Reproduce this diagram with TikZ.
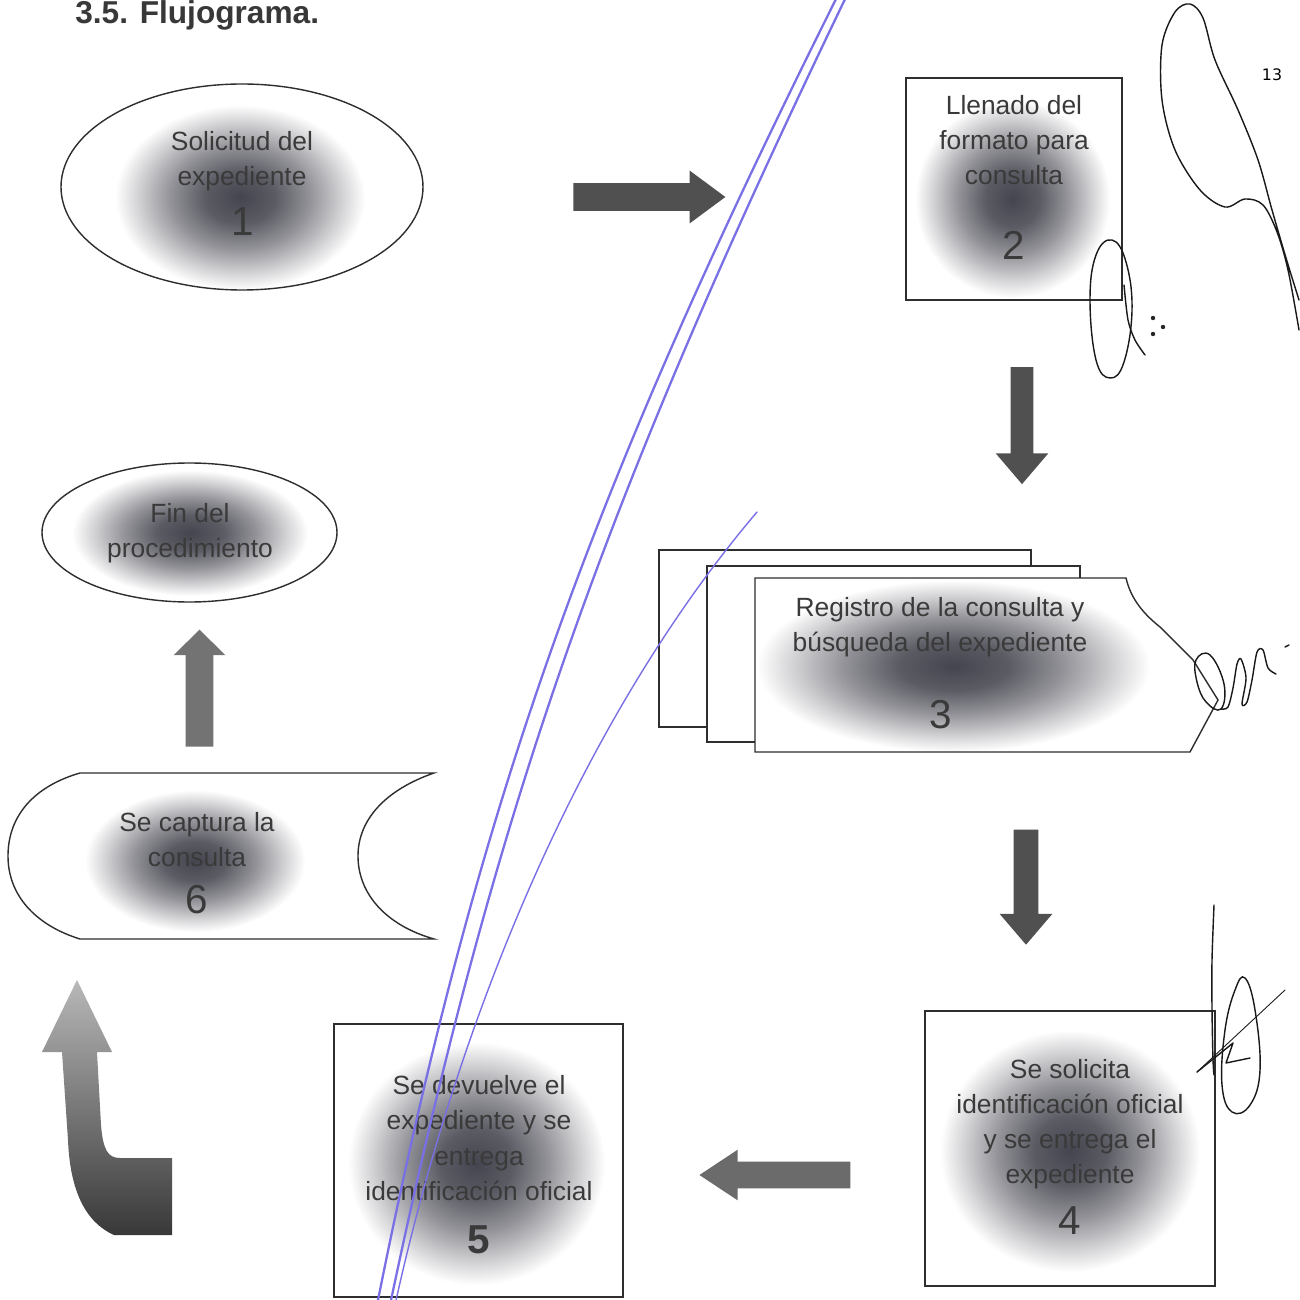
\documentclass[tikz,border=0pt]{standalone}
\usepackage{fontspec}
\setmainfont{Liberation Sans}
\newfontfamily\pagefont{DejaVu Sans}
\usetikzlibrary{shapes.arrows}

\definecolor{blobc}{rgb}{0.27,0.27,0.31}
\definecolor{inkc}{HTML}{3A3A3A}
\definecolor{penblue}{HTML}{7A70E6}
\definecolor{arrowc}{HTML}{505050}
\definecolor{edgec}{HTML}{2E2E2E}

% soft dark spot behind the step texts (the path box spans -25bp..25bp)
\pgfdeclareradialshading{blob}{\pgfpoint{0bp}{0bp}}{%
  color(0bp)=(blobc); color(7bp)=(blobc!88!white);
  color(14bp)=(blobc!58!white); color(20bp)=(blobc!26!white);
  color(25bp)=(white); color(50bp)=(white)}

\begin{document}
\begin{tikzpicture}[x=0.02cm, y=-0.02cm,
  boxline/.style={draw=edgec, line width=0.8pt},
  pagefill/.style={boxline, fill=white},
  steptext/.style={text=inkc, align=center, inner sep=0pt,
    font=\fontsize{15}{20}\selectfont},
  stepnum/.style={text=inkc, inner sep=0pt, font=\fontsize{23}{23}\selectfont},
  blockarrow/.style={single arrow, fill=arrowc, draw=none,
    inner xsep=0pt, outer sep=0pt},
  signline/.style={draw=black!90, line width=0.8pt, line cap=round, line join=round},
  penline/.style={draw=penblue, line width=1.3pt, line cap=round},
]
\fill[white] (0,0) rectangle (1299,1300);
\useasboundingbox (0,0) rectangle (1299,1300);

% heading and page number
\node[anchor=base west, inner sep=0pt, text=black!78,
  font=\fontsize{18}{18}\selectfont\bfseries] (title) at (75,24) {3.5. Flujograma.};
\node[inner sep=0pt, font=\pagefont\fontsize{9}{9}\selectfont] (pageno) at (1272,75) {13};

% ---- stacked pages of step 3 ----
\draw[pagefill] (659,550) rectangle (1031,727);
\draw[pagefill] (707,566) rectangle (1080,742);
\fill[white] (755,578) -- (1126,578) .. controls (1131,600) and (1145,615) .. (1160,627)
  -- (1193,660) -- (1218,700) -- (1190,752) -- (755,752) -- cycle;

% ---- soft spots ----
\shade[shading=blob] (115,105) rectangle (365,290);
\shade[shading=blob] (915,100) rectangle (1110,298);
\shade[shading=blob] (757,580) rectangle (1150,752);
\shade[shading=blob] (940,1030) rectangle (1200,1272);
\shade[shading=blob] (348,1042) rectangle (605,1285);
\shade[shading=blob] (85,790) rectangle (305,932);
\shade[shading=blob] (72,470) rectangle (308,596);

% ---- outlines ----
\draw[boxline] (242,187) ellipse (181 and 103);
\draw[boxline] (906,78) rectangle (1122,300);
\draw[boxline] (755,578) -- (1126,578) .. controls (1131,600) and (1145,615) .. (1160,627)
  -- (1193,660) -- (1218,700) -- (1190,752) -- (755,752) -- cycle;
\draw[boxline] (925,1011) rectangle (1215,1286);
\draw[boxline] (334,1024) rectangle (623,1297);
\draw[boxline] (80,773) -- (434,773)
  .. controls (385,790) and (358,820) .. (358,856)
  .. controls (358,893) and (385,925) .. (434,939)
  -- (80,939)
  .. controls (35,925) and (8,895) .. (8,856)
  .. controls (8,815) and (35,786) .. (80,773);
\draw[boxline] (189.5,532.5) ellipse (147.5 and 69.5);

% ---- step texts ----
\node[steptext] (n1) at (242,161) {Solicitud del\\expediente};
\node[stepnum]  (n1num) at (243,222) {1};
\node[steptext] (n2) at (1014,140) {Llenado del\\formato para\\consulta};
\node[stepnum]  (n2num) at (1014,245) {2};
\node[steptext] (n3) at (940,627) {Registro de la consulta y\\búsqueda del expediente};
\node[stepnum]  (n3num) at (941,715) {3};
\node[steptext] (n4) at (1070,1124) {Se solicita\\identificación oficial\\y se entrega el\\expediente};
\node[stepnum]  (n4num) at (1070,1221) {4};
\node[steptext] (n5) at (479,1138) {Se devuelve el\\expediente y se\\entrega\\identificación oficial};
\node[stepnum, font=\fontsize{23}{23}\selectfont\bfseries] (n5num) at (479,1240) {5};
\node[steptext] (n6) at (197,840) {Se captura la\\consulta};
\node[stepnum]  (n6num) at (197,900) {6};
\node[steptext] (fin) at (190,533) {Fin del\\procedimiento};

% ---- block arrows between the steps ----
\node[blockarrow, minimum height=3.04cm, minimum width=1.04cm, inner ysep=0.27cm,
  single arrow head extend=0.25cm, single arrow tip angle=73] (a12) at (640,197) {};
\node[blockarrow, rotate=-90, minimum height=2.34cm, minimum width=1.04cm, inner ysep=0.22cm,
  single arrow head extend=0.30cm, single arrow tip angle=81] (a23) at (1022,419) {};
\node[blockarrow, rotate=-90, minimum height=2.30cm, minimum width=1.04cm, inner ysep=0.24cm,
  single arrow head extend=0.28cm, single arrow tip angle=81] (a34) at (1026,880) {};
\node[blockarrow, fill=black!58, rotate=180, minimum height=3.02cm, minimum width=1.0cm,
  inner ysep=0.26cm, single arrow head extend=0.24cm, single arrow tip angle=67] (a45) at (785,1175) {};
\node[blockarrow, fill=black!55, rotate=90, minimum height=2.34cm, minimum width=1.02cm,
  inner ysep=0.27cm, single arrow head extend=0.24cm, single arrow tip angle=91] (a6f) at (199.5,695) {};

% bent arrow from step 5 up to step 6
\shade[top color=black!28, bottom color=black!78]
  (77,980) -- (112,1052) -- (97,1052) -- (101,1125)
  .. controls (103,1150) and (108,1158) .. (120,1158)
  -- (172,1158) -- (172,1235) -- (114,1235)
  .. controls (85,1222) and (70,1190) .. (68,1140)
  -- (62,1052) -- (42,1052) -- cycle;

% ---- handwritten initials ----
\draw[signline] plot[smooth, tension=0.55] coordinates {(1299,330) (1288,270) (1277,232)
  (1263,205) (1245,199) (1225,207) (1200,190) (1175,150) (1162,100) (1162,45) (1175,12)
  (1190,4) (1203,18) (1215,60) (1238,110) (1258,160) (1272,210) (1286,258) (1299,300)};
\draw[signline] plot[smooth cycle, tension=0.7] coordinates {(1112,240) (1126,262)
  (1132,310) (1124,362) (1110,378) (1096,360) (1090,300) (1096,255)};
\draw[signline] plot[smooth] coordinates {(1124,285) (1128,320) (1135,340) (1145,355)};
\fill[black!85] (1153,318) circle (2.2) (1163,327) circle (2.2) (1153,334) circle (2.2);

\draw[signline] plot[smooth cycle, tension=0.7] coordinates {(1196,660) (1210,655)
  (1224,684) (1221,709) (1206,702) (1197,682)};
\draw[signline] plot[smooth, tension=0.5] coordinates {(1221,709) (1228,707) (1233,688)
  (1237,664) (1241,659) (1246,678) (1242,704) (1247,702) (1252,680) (1257,652) (1263,650)
  (1268,668) (1276,674)};
\draw[signline] (1285,647) -- (1289,645);

\draw[signline] plot[smooth] coordinates {(1214,905) (1212,960) (1212,1010) (1213,1060) (1214,1075)};
\draw[signline] plot[smooth cycle, tension=0.7] coordinates {(1245,978) (1255,1010)
  (1260,1070) (1250,1105) (1232,1112) (1222,1085) (1225,1030) (1235,990)};
\draw[signline, line width=0.5pt] (1197,1072) -- (1285,990);
\draw[signline] (1197,1072) -- (1233,1043) -- (1226,1063) -- (1250,1058);

% ---- blue pen strokes ----
\draw[penline] (838,-5) .. controls (588,495) and (477,805) .. (377,1305);
\draw[penline] (847,-5) .. controls (606,495) and (495,805) .. (390,1305);
\draw[penline, line width=0.8pt] (757,512) .. controls (587,712) and (461,1005) .. (395,1305);
\end{tikzpicture}
\end{document}
